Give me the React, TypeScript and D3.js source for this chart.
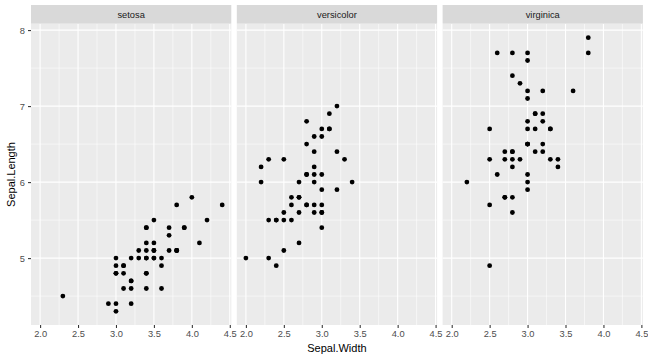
import React, { useEffect, useRef } from "react";
import * as d3 from "d3";

// iris: Sepal.Width / Sepal.Length per species
const setosaWidth = [3.5, 3.0, 3.2, 3.1, 3.6, 3.9, 3.4, 3.4, 2.9, 3.1, 3.7, 3.4, 3.0, 3.0, 4.0, 4.4, 3.9, 3.5, 3.8, 3.8, 3.4, 3.7, 3.6, 3.3, 3.4, 3.0, 3.4, 3.5, 3.4, 3.2, 3.1, 3.4, 4.1, 4.2, 3.1, 3.2, 3.5, 3.6, 3.0, 3.4, 3.5, 2.3, 3.2, 3.5, 3.8, 3.0, 3.8, 3.2, 3.7, 3.3];
const setosaLength = [5.1, 4.9, 4.7, 4.6, 5.0, 5.4, 4.6, 5.0, 4.4, 4.9, 5.4, 4.8, 4.8, 4.3, 5.8, 5.7, 5.4, 5.1, 5.7, 5.1, 5.4, 5.1, 4.6, 5.1, 4.8, 5.0, 5.0, 5.2, 5.2, 4.7, 4.8, 5.4, 5.2, 5.5, 4.9, 5.0, 5.5, 4.9, 4.4, 5.1, 5.0, 4.5, 4.4, 5.0, 5.1, 4.8, 5.1, 4.6, 5.3, 5.0];

const versicolorWidth = [3.2, 3.2, 3.1, 2.3, 2.8, 2.8, 3.3, 2.4, 2.9, 2.7, 2.0, 3.0, 2.2, 2.9, 2.9, 3.1, 3.0, 2.7, 2.2, 2.5, 3.2, 2.8, 2.5, 2.8, 2.9, 3.0, 2.8, 3.0, 2.9, 2.6, 2.4, 2.4, 2.7, 2.7, 3.0, 3.4, 3.1, 2.3, 3.0, 2.5, 2.6, 3.0, 2.6, 2.3, 2.7, 3.0, 2.9, 2.9, 2.5, 2.8];
const versicolorLength = [7.0, 6.4, 6.9, 5.5, 6.5, 5.7, 6.3, 4.9, 6.6, 5.2, 5.0, 5.9, 6.0, 6.1, 5.6, 6.7, 5.6, 5.8, 6.2, 5.6, 5.9, 6.1, 6.3, 6.1, 6.4, 6.6, 6.8, 6.7, 6.0, 5.7, 5.5, 5.5, 5.8, 6.0, 5.4, 6.0, 6.7, 6.3, 5.6, 5.5, 5.5, 6.1, 5.8, 5.0, 5.6, 5.7, 5.7, 6.2, 5.1, 5.7];

const virginicaWidth = [3.3, 2.7, 3.0, 2.9, 3.0, 3.0, 2.5, 2.9, 2.5, 3.6, 3.2, 2.7, 3.0, 2.5, 2.8, 3.2, 3.0, 3.8, 2.6, 2.2, 3.2, 2.8, 2.8, 2.7, 3.3, 3.2, 2.8, 3.0, 2.8, 3.0, 2.8, 3.8, 2.8, 2.8, 2.6, 3.0, 3.4, 3.1, 3.0, 3.1, 3.1, 3.1, 2.7, 3.2, 3.3, 3.0, 2.5, 3.0, 3.4, 3.0];
const virginicaLength = [6.3, 5.8, 7.1, 6.3, 6.5, 7.6, 4.9, 7.3, 6.7, 7.2, 6.5, 6.4, 6.8, 5.7, 5.8, 6.4, 6.5, 7.7, 7.7, 6.0, 6.9, 5.6, 7.7, 6.3, 6.7, 7.2, 6.2, 6.1, 6.4, 7.2, 7.4, 7.9, 6.4, 6.3, 6.1, 7.7, 6.3, 6.4, 6.0, 6.9, 6.7, 6.9, 5.8, 6.8, 6.7, 6.7, 6.3, 6.5, 6.2, 5.9];

const speciesNames = ["setosa", "versicolor", "virginica"];
const xTicks = [2.0, 2.5, 3.0, 3.5, 4.0, 4.5];
const xMinor = [2.25, 2.75, 3.25, 3.75, 4.25];
const yTicks = [5, 6, 7, 8];
const yMinor = [4.5, 5.5, 6.5, 7.5];

export default function App() {
  const svgRef = useRef(null);

  useEffect(() => {
    const width = 648;
    const height = 360;
    const panelTop = 24;
    const panelBottom = 325;
    const stripTop = 5;
    const firstLeft = 31;
    const panelW = 200.3;
    const gap = 5.5;

    const svg = d3.select(svgRef.current);
    svg.selectAll("*").remove();
    svg.attr("width", width).attr("height", height);

    svg.append("rect").attr("width", width).attr("height", height).attr("fill", "#fff");

    const series = [
      { name: speciesNames[0], xs: setosaWidth, ys: setosaLength },
      { name: speciesNames[1], xs: versicolorWidth, ys: versicolorLength },
      { name: speciesNames[2], xs: virginicaWidth, ys: virginicaLength },
    ];

    // ggplot expands the data range by 5% each side
    const xr = [2.0, 4.4];
    const yr = [4.3, 7.9];
    const xPad = (xr[1] - xr[0]) * 0.05;
    const yPad = (yr[1] - yr[0]) * 0.05;

    const y = d3
      .scaleLinear()
      .domain([yr[0] - yPad, yr[1] + yPad])
      .range([panelBottom, panelTop]);

    series.forEach((s, i) => {
      const left = firstLeft + i * (panelW + gap);
      const x = d3
        .scaleLinear()
        .domain([xr[0] - xPad, xr[1] + xPad])
        .range([left, left + panelW]);

      // strip
      svg
        .append("rect")
        .attr("x", left)
        .attr("y", stripTop)
        .attr("width", panelW)
        .attr("height", panelTop - stripTop - 0.3)
        .attr("fill", "#D9D9D9");
      svg
        .append("text")
        .attr("x", left + panelW / 2)
        .attr("y", (stripTop + panelTop) / 2 + 3.2)
        .attr("text-anchor", "middle")
        .attr("font-family", "Liberation Sans, Arial, sans-serif")
        .attr("font-size", 9.3)
        .attr("fill", "#1A1A1A")
        .text(s.name);

      // panel background
      svg
        .append("rect")
        .attr("x", left)
        .attr("y", panelTop)
        .attr("width", panelW)
        .attr("height", panelBottom - panelTop)
        .attr("fill", "#EBEBEB");

      const g = svg.append("g");

      // minor grid
      g.selectAll(".xminor")
        .data(xMinor)
        .enter()
        .append("line")
        .attr("x1", (d) => x(d))
        .attr("x2", (d) => x(d))
        .attr("y1", panelTop)
        .attr("y2", panelBottom)
        .attr("stroke", "#fff")
        .attr("stroke-width", 0.55);
      g.selectAll(".yminor")
        .data(yMinor)
        .enter()
        .append("line")
        .attr("x1", left)
        .attr("x2", left + panelW)
        .attr("y1", (d) => y(d))
        .attr("y2", (d) => y(d))
        .attr("stroke", "#fff")
        .attr("stroke-width", 0.55);

      // major grid
      g.selectAll(".xmajor")
        .data(xTicks)
        .enter()
        .append("line")
        .attr("x1", (d) => x(d))
        .attr("x2", (d) => x(d))
        .attr("y1", panelTop)
        .attr("y2", panelBottom)
        .attr("stroke", "#fff")
        .attr("stroke-width", 1.1);
      g.selectAll(".ymajor")
        .data(yTicks)
        .enter()
        .append("line")
        .attr("x1", left)
        .attr("x2", left + panelW)
        .attr("y1", (d) => y(d))
        .attr("y2", (d) => y(d))
        .attr("stroke", "#fff")
        .attr("stroke-width", 1.1);

      // points
      g.selectAll(".pt")
        .data(s.xs.map((v, k) => [v, s.ys[k]]))
        .enter()
        .append("circle")
        .attr("cx", (d) => x(d[0]))
        .attr("cy", (d) => y(d[1]))
        .attr("r", 2.4)
        .attr("fill", "#000");

      // x axis
      const xAxis = d3
        .axisBottom(x)
        .tickValues(xTicks)
        .tickSize(3)
        .tickPadding(2)
        .tickFormat(d3.format(".1f"));
      const xg = svg
        .append("g")
        .attr("transform", `translate(0,${panelBottom})`)
        .call(xAxis);
      xg.select(".domain").remove();
      xg.selectAll("line").attr("stroke", "#333333").attr("stroke-width", 1.07);
      xg.selectAll("text")
        .attr("fill", "#4D4D4D")
        .style("font-size", "9.3px")
        .style("font-family", "Liberation Sans, Arial, sans-serif");
    });

    // y axis (first panel only)
    const yAxis = d3
      .axisLeft(y)
      .tickValues(yTicks)
      .tickSize(3)
      .tickPadding(3)
      .tickFormat(d3.format("d"));
    const yg = svg.append("g").attr("transform", `translate(${firstLeft},0)`).call(yAxis);
    yg.select(".domain").remove();
    yg.selectAll("line").attr("stroke", "#333333").attr("stroke-width", 1.07);
    yg.selectAll("text")
      .attr("fill", "#4D4D4D")
      .style("font-size", "9.3px")
      .style("font-family", "Liberation Sans, Arial, sans-serif");

    // axis titles
    const plotRight = firstLeft + 3 * panelW + 2 * gap;
    svg
      .append("text")
      .attr("x", (firstLeft + plotRight) / 2)
      .attr("y", 352)
      .attr("text-anchor", "middle")
      .attr("font-family", "Liberation Sans, Arial, sans-serif")
      .attr("font-size", 11)
      .attr("fill", "#000")
      .text("Sepal.Width");
    svg
      .append("text")
      .attr("transform", `translate(15,${(panelTop + panelBottom) / 2}) rotate(-90)`)
      .attr("text-anchor", "middle")
      .attr("font-family", "Liberation Sans, Arial, sans-serif")
      .attr("font-size", 11)
      .attr("fill", "#000")
      .text("Sepal.Length");
  }, []);

  return <svg ref={svgRef} style={{ display: "block", position: "absolute", left: 0, top: 0 }}></svg>;
}
